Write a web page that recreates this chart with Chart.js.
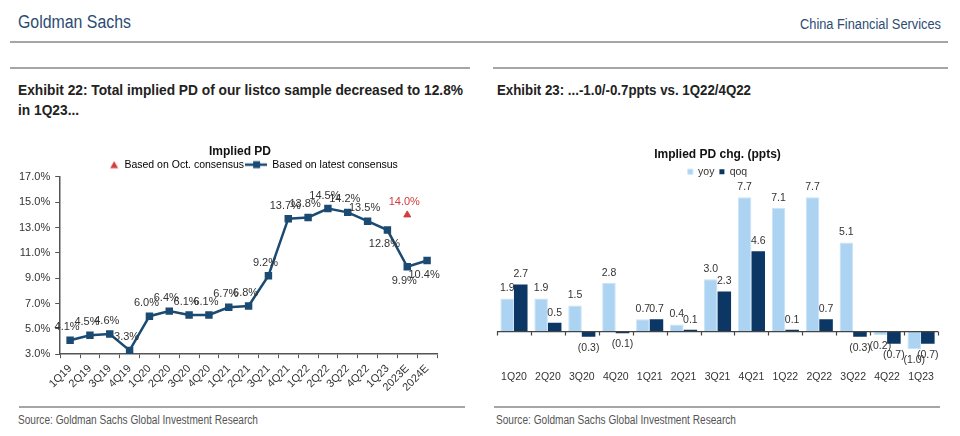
<!DOCTYPE html>
<html lang="en">
<head>
    <meta charset="UTF-8">
    <title>Implied PD - Goldman Sachs</title>
    <script src="https://cdn.jsdelivr.net/npm/chart.js"></script>
    <style>
        body { margin: 0; width: 960px; height: 436px; background: #fff; position: relative; overflow: hidden; }
        .fit { position: absolute; white-space: nowrap; font-family: "Liberation Sans", Arial, sans-serif; transform-origin: left center; line-height: 1; }
        .rule { position: absolute; background: #a6a6a6; height: 2px; }
        .brand { color: #2b4c72; }
        .exhibit { font-size: 15.5px; font-weight: bold; color: #222; }
        .source { font-size: 12.5px; color: #555; }
        canvas { position: absolute; }
    </style>
</head>
<body>

    <div class="fit brand" style="left:18px; top:13px; font-size:18px;" data-w="113">Goldman Sachs</div>
    <div class="fit brand" style="left:800px; top:17px; font-size:14px;" data-w="141">China Financial Services</div>
    <div class="rule" style="left:10px; top:41px; width:938px;"></div>

    <div class="rule" style="left:10px; top:67px; width:460px;"></div>
    <div class="rule" style="left:493px; top:67px; width:455px;"></div>

    <div class="fit exhibit" style="left:18px; top:82px;" data-w="445">Exhibit 22: Total implied PD of our listco sample decreased to 12.8%</div>
    <div class="fit exhibit" style="left:18px; top:102px;" data-w="445" data-ref="Exhibit 22: Total implied PD of our listco sample decreased to 12.8%">in 1Q23...</div>
    <div class="fit exhibit" style="left:497px; top:82px;" data-w="254">Exhibit 23: ...-1.0/-0.7ppts vs. 1Q22/4Q22</div>

    <canvas id="pdChart" width="480" height="268" style="left:0px; top:130px;"></canvas>
    <canvas id="chgChart" width="470" height="254" style="left:490px; top:130px;"></canvas>

    <div class="rule" style="left:19px; top:406px; width:446px; height:1.5px;"></div>
    <div class="rule" style="left:494px; top:406px; width:446px; height:1.5px;"></div>
    <div class="fit source" style="left:18px; top:414px;" data-w="240">Source: Goldman Sachs Global Investment Research</div>
    <div class="fit source" style="left:496px; top:414px;" data-w="240">Source: Goldman Sachs Global Investment Research</div>

    <script>
        // Exhibit 22 data
        const pdQuarters = ['1Q19', '2Q19', '3Q19', '4Q19', '1Q20', '2Q20', '3Q20', '4Q20', '1Q21', '2Q21',
                            '3Q21', '4Q21', '1Q22', '2Q22', '3Q22', '4Q22', '1Q23', '2023E', '2024E'];
        const pdLatest = [4.1, 4.5, 4.6, 3.3, 6.0, 6.4, 6.1, 6.1, 6.7, 6.8,
                          9.2, 13.7, 13.8, 14.5, 14.2, 13.5, 12.8, 9.9, 10.4];
        const pdOct = [null, null, null, null, null, null, null, null, null, null,
                       null, null, null, null, null, null, null, 14.0, null];
        const pdTicks = [3, 5, 7, 9, 11, 13, 15, 17];

        // Exhibit 23 data
        const chgQuarters = ['1Q20', '2Q20', '3Q20', '4Q20', '1Q21', '2Q21', '3Q21', '4Q21', '1Q22', '2Q22', '3Q22', '4Q22', '1Q23'];
        const chgYoy = [1.9, 1.9, 1.5, 2.8, 0.7, 0.4, 3.0, 7.7, 7.1, 7.7, 5.1, -0.2, -1.0];
        const chgQoq = [2.7, 0.5, -0.3, -0.1, 0.7, 0.1, 2.3, 4.6, 0.1, 0.7, -0.3, -0.7, -0.7];

        // squeeze the condensed report fonts to their widths in the original
        document.querySelectorAll('.fit').forEach(el => {
            let w = el.getBoundingClientRect().width;
            if (el.dataset.ref) {
                const probe = el.cloneNode(false);
                probe.textContent = el.dataset.ref;
                document.body.appendChild(probe);
                w = probe.getBoundingClientRect().width;
                probe.remove();
            }
            el.style.transform = 'scaleX(' + (el.dataset.w / w) + ')';
        });

        const navy = '#1b4a72';
        const red = '#d23c3c';
        const txt = '#333';
        const font = 'Arial, "Liberation Sans", sans-serif';

        // legend markers drawn into small canvases
        function marker(draw) {
            const m = document.createElement('canvas');
            m.width = 22;
            m.height = 10;
            draw(m.getContext('2d'));
            return m;
        }
        const triMarker = marker(c => {
            c.fillStyle = red;
            c.beginPath();
            c.moveTo(17, 1.5);
            c.lineTo(21, 8.5);
            c.lineTo(13, 8.5);
            c.closePath();
            c.fill();
        });
        const lineMarker = marker(c => {
            c.strokeStyle = navy;
            c.lineWidth = 2.5;
            c.beginPath();
            c.moveTo(0, 5);
            c.lineTo(22, 5);
            c.stroke();
            c.fillStyle = navy;
            c.fillRect(8, 1.5, 7, 7);
        });

        // value labels for the line chart, plus title/legend nudges
        const belowIdx = [16, 17, 18];
        const pdLabels = {
            id: 'pdLabels',
            beforeInit(chart) {
                const fit = chart.legend.fit;
                chart.legend.fit = function () {
                    fit.call(this);
                    this.height -= 3;
                };
            },
            afterLayout(chart) {
                chart.titleBlock.left += 14.5;
                chart.titleBlock.right += 14.5;
                chart.legend.left += 22;
                chart.legend.right += 22;
            },
            afterDatasetsDraw(chart) {
                const ctx = chart.ctx;
                ctx.save();
                ctx.font = '11px ' + font;
                ctx.textAlign = 'center';
                ctx.textBaseline = 'middle';
                chart.data.datasets.forEach((ds, di) => {
                    const meta = chart.getDatasetMeta(di);
                    meta.data.forEach((pt, i) => {
                        const v = ds.data[i];
                        if (v === null) return;
                        ctx.fillStyle = di === 0 ? red : txt;
                        const below = di === 1 && belowIdx.includes(i);
                        ctx.fillText(v.toFixed(1) + '%', pt.x - 3, pt.y + (below ? 14 : -13));
                    });
                });
                ctx.restore();
            }
        };

        new Chart(document.getElementById('pdChart'), {
            type: 'line',
            data: {
                labels: pdQuarters,
                datasets: [
                    {
                        label: 'Based on Oct. consensus',
                        data: pdOct,
                        showLine: false,
                        pointStyle: 'triangle',
                        pointRadius: 4,
                        backgroundColor: red,
                        borderColor: red
                    },
                    {
                        label: 'Based on latest consensus',
                        data: pdLatest,
                        borderColor: navy,
                        backgroundColor: navy,
                        borderWidth: 2.5,
                        pointStyle: 'rect',
                        pointRadius: 3.5,
                        tension: 0
                    }
                ]
            },
            options: {
                responsive: false,
                animation: false,
                layout: { padding: { left: 14, right: 43, top: 0, bottom: 0 } },
                plugins: {
                    title: {
                        display: true,
                        text: 'Implied PD',
                        color: '#111',
                        font: { family: font, size: 12, weight: 'bold' },
                        padding: { top: 14, bottom: 0 }
                    },
                    legend: {
                        labels: {
                            usePointStyle: true,
                            pointStyleWidth: 22,
                            color: txt,
                            font: { family: font, size: 10.5 },
                            padding: 1,
                            generateLabels(chart) {
                                return chart.data.datasets.map((ds, i) => ({
                                    text: ds.label,
                                    fillStyle: ds.backgroundColor,
                                    strokeStyle: ds.borderColor,
                                    lineWidth: 0,
                                    pointStyle: i === 0 ? triMarker : lineMarker,
                                    datasetIndex: i
                                }));
                            }
                        }
                    },
                    tooltip: { enabled: false }
                },
                scales: {
                    x: {
                        offset: true,
                        grid: { display: true, drawOnChartArea: false, drawTicks: true, tickLength: 4, offset: true, color: '#555' },
                        border: { color: '#555', width: 1.5 },
                        ticks: { color: txt, font: { family: font, size: 11 }, autoSkip: false, minRotation: 45, maxRotation: 45, padding: 4 }
                    },
                    y: {
                        min: 3,
                        max: 17,
                        afterBuildTicks(scale) { scale.ticks = pdTicks.map(v => ({ value: v })); },
                        grid: { display: true, drawOnChartArea: false, drawTicks: true, tickLength: 5, color: '#555' },
                        border: { color: '#555', width: 1.5 },
                        ticks: { color: txt, font: { family: font, size: 11 }, padding: 5, callback: v => v.toFixed(1) + '%' }
                    }
                }
            },
            plugins: [pdLabels]
        });

        // bar chart: zero line, tick marks and value labels
        const chgDecor = {
            id: 'chgDecor',
            afterDatasetsDraw(chart) {
                const ctx = chart.ctx;
                const area = chart.chartArea;
                const y0 = chart.scales.y.getPixelForValue(0);
                ctx.save();
                ctx.strokeStyle = '#444';
                ctx.lineWidth = 1.2;
                ctx.beginPath();
                ctx.moveTo(area.left, y0);
                ctx.lineTo(area.right, y0);
                const step = (area.right - area.left) / chgQuarters.length;
                for (let i = 0; i <= chgQuarters.length; i++) {
                    const x = Math.round(area.left + i * step) + 0.5;
                    ctx.moveTo(x, y0);
                    ctx.lineTo(x, y0 + 4);
                }
                ctx.stroke();

                ctx.font = '10.5px ' + font;
                ctx.fillStyle = txt;
                ctx.textAlign = 'center';
                ctx.textBaseline = 'middle';
                chart.data.datasets.forEach((ds, di) => {
                    chart.getDatasetMeta(di).data.forEach((bar, i) => {
                        const v = ds.data[i];
                        const s = v < 0 ? '(' + Math.abs(v).toFixed(1) + ')' : v.toFixed(1);
                        ctx.fillText(s, bar.x, v < 0 ? bar.y + 11 : bar.y - 10);
                    });
                });
                ctx.restore();
            }
        };

        new Chart(document.getElementById('chgChart'), {
            type: 'bar',
            data: {
                labels: chgQuarters,
                datasets: [
                    { label: 'yoy', data: chgYoy, backgroundColor: '#acd3f1', borderColor: '#c9e3f7', borderWidth: 1, barPercentage: 1.0, categoryPercentage: 0.8 },
                    { label: 'qoq', data: chgQoq, backgroundColor: '#0c3663', borderColor: '#0c3663', borderWidth: 0, barPercentage: 1.0, categoryPercentage: 0.8 }
                ]
            },
            options: {
                responsive: false,
                animation: false,
                layout: { padding: { left: 7, right: 22, top: 0, bottom: 0 } },
                plugins: {
                    title: {
                        display: true,
                        text: 'Implied PD chg. (ppts)',
                        color: '#111',
                        font: { family: font, size: 12, weight: 'bold' },
                        padding: { top: 17, bottom: 0 }
                    },
                    legend: {
                        labels: {
                            boxWidth: 5,
                            boxHeight: 5,
                            padding: 5,
                            color: txt,
                            font: { family: font, size: 10.5 }
                        }
                    },
                    tooltip: { enabled: false }
                },
                scales: {
                    x: {
                        grid: { display: false },
                        border: { display: false },
                        ticks: { color: txt, font: { family: font, size: 10.5 }, padding: 1 }
                    },
                    y: {
                        display: false,
                        min: -1.71,
                        max: 8.29
                    }
                }
            },
            plugins: [chgDecor]
        });
    </script>

</body>
</html>
